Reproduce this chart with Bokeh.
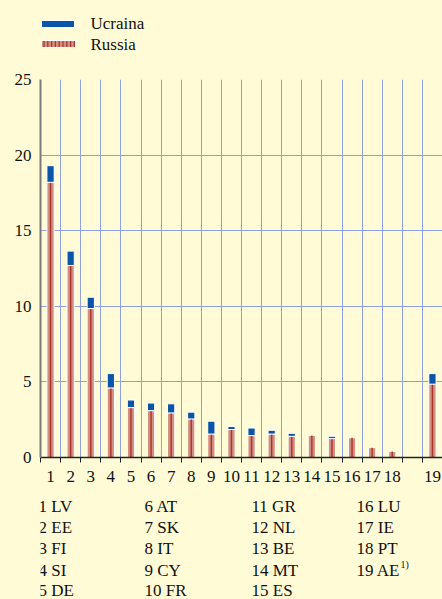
from bokeh.plotting import figure
from bokeh.layouts import column
from bokeh.models import Range1d, FixedTicker, ColumnDataSource
from bokeh.core.properties import value
from bokeh.embed import file_html
from bokeh.resources import INLINE

# ---- data ----
labels = ["1", "2", "3", "4", "5", "6", "7", "8", "9", "10", "11", "12", "13",
          "14", "15", "16", "17", "18", "19"]
russia = [18.2, 12.7, 9.85, 4.6, 3.3, 3.1, 2.95, 2.55, 1.55, 1.85, 1.45, 1.55,
          1.4, 1.45, 1.25, 1.3, 0.65, 0.4, 4.85]
ukraine = [1.1, 0.95, 0.75, 0.95, 0.5, 0.5, 0.6, 0.45, 0.85, 0.2, 0.5, 0.25,
           0.2, 0.0, 0.15, 0.0, 0.0, 0.0, 0.7]
countries = ["LV", "EE", "FI", "SI", "DE", "AT", "SK", "IT", "CY", "FR", "GR",
             "NL", "BE", "MT", "ES", "LU", "IE", "PT", "AE"]
series_names = ["Ucraina", "Russia"]
y_ticks = [0, 5, 10, 15, 20, 25]

BG = "#FFFBD6"
BLUE = "#0A55A5"
PINK = "#D28E7E"
DARK = "#A8352B"
GRID = "#8FA0DA"
FONT = "Liberation Serif"
FS = "17px"
W = 442
LEFT = 40
TOP_H, KEY_H = 71, 107
MAIN_H = 599 - TOP_H - KEY_H


def blank_fig(h):
    # frame aligned with the main chart's frame (column aligns frames);
    # x range in page pixels so positions below read as page x
    f = figure(width=W, height=h, output_backend="svg", toolbar_location=None,
               x_range=Range1d(LEFT, W), y_range=Range1d(h, 0),
               min_border_left=LEFT, min_border_right=0,
               min_border_top=0, min_border_bottom=0)
    f.axis.visible = False
    f.grid.visible = False
    f.outline_line_color = None
    f.background_fill_color = BG
    f.border_fill_color = BG
    return f


# ---- legend strip ----
leg = blank_fig(TOP_H)
kx0, kx1 = 41, 74
leg.quad(left=[kx0], right=[kx1], top=[20], bottom=[27], fill_color=BLUE,
         line_color="white", line_width=1)
leg.quad(left=[kx0], right=[kx1], top=[40], bottom=[47], fill_color=PINK,
         line_color="white", line_width=1)
stripes = [kx0 + 2.5 + 3.8 * i for i in range(9)]
leg.segment(x0=stripes, x1=stripes, y0=[40.5] * 9, y1=[46.5] * 9,
            line_color=DARK, line_width=1.2)
leg.text(x=[90, 90], y=[23, 44], text=series_names, text_font=value(FONT),
         text_font_size=FS, text_baseline="middle", text_align="left",
         text_color="#111111")

# ---- main chart ----
xpos = list(range(1, 19)) + [20]
n_slots = 20

p = figure(width=W, height=MAIN_H, output_backend="svg", toolbar_location=None,
           x_range=Range1d(0.5, n_slots + 0.5), y_range=Range1d(0, 25),
           min_border_left=LEFT, min_border_right=0, min_border_top=8,
           min_border_bottom=MAIN_H - 8 - 378)
p.background_fill_color = BG
p.border_fill_color = BG
p.outline_line_color = None

p.xgrid.ticker = FixedTicker(ticks=[i + 0.5 for i in range(1, n_slots + 1)])
p.ygrid.ticker = FixedTicker(ticks=y_ticks[1:])
for g in (p.xgrid, p.ygrid):
    g.grid_line_color = GRID
    g.grid_line_width = 1

p.xaxis.ticker = FixedTicker(ticks=xpos,
                             minor_ticks=[i + 0.5 for i in range(0, n_slots + 1)])
p.xaxis.major_label_overrides = {x: l for x, l in zip(xpos, labels)}
p.xaxis.major_tick_out = 0
p.xaxis.major_tick_in = 0
p.xaxis.minor_tick_out = 5
p.xaxis.minor_tick_in = 0
p.xaxis.minor_tick_line_color = "#222222"
p.xaxis.axis_line_color = "#222222"
p.xaxis.axis_line_width = 1.5
p.xaxis.major_label_standoff = 8
p.xaxis.major_label_text_font = FONT
p.xaxis.major_label_text_font_size = FS
p.xaxis.major_label_text_color = "#111111"

p.yaxis.ticker = FixedTicker(ticks=y_ticks)
p.yaxis.major_tick_out = 0
p.yaxis.major_tick_in = 0
p.yaxis.minor_tick_line_color = None
p.yaxis.axis_line_color = "#7a7a7a"
p.yaxis.axis_line_width = 2
p.yaxis.major_label_standoff = 9
p.yaxis.major_label_text_font = FONT
p.yaxis.major_label_text_font_size = FS
p.yaxis.major_label_text_color = "#111111"

src_r = ColumnDataSource(dict(x=xpos, top=russia))
p.vbar(x="x", top="top", bottom=0, width=0.36, source=src_r,
       fill_color=PINK, line_color="white", line_width=1)
p.vbar(x="x", top="top", bottom=0, width=0.07, source=src_r,
       fill_color=DARK, line_color=None)

ux = [x for x, u in zip(xpos, ukraine) if u > 0]
ub = [r for r, u in zip(russia, ukraine) if u > 0]
ut = [r + u for r, u in zip(russia, ukraine) if u > 0]
p.vbar(x=ux, bottom=ub, top=ut, width=0.36, fill_color=BLUE,
       line_color="white", line_width=1)

# ---- country key ----
key = blank_fig(KEY_H)
col_px = [38, 144, 251, 356]
row_px = [13.5, 35, 56, 77.5, 98]
kx, ky, kt = [], [], []
for i, c in enumerate(countries):
    col, row = divmod(i, 5)
    kx.append(col_px[col])
    ky.append(row_px[row])
    kt.append(f"{labels[i]} {c}")
key.text(x=kx, y=ky, text=kt, text_font=value(FONT), text_font_size=FS,
         text_baseline="middle", text_align="left", text_color="#111111")
# footnote mark on the last entry
key.text(x=[kx[-1]], y=[ky[-1]], x_offset=44, y_offset=-6, text=["1)"],
         text_font=value(FONT), text_font_size="10px",
         text_baseline="middle", text_align="left", text_color="#111111")

layout = column(leg, p, key, spacing=0)
layout.styles = {"background-color": BG}
html = file_html(layout, INLINE)
html = html.replace("<body>", f'<body style="background-color:{BG};">', 1)
open("out.html", "w").write(html)
